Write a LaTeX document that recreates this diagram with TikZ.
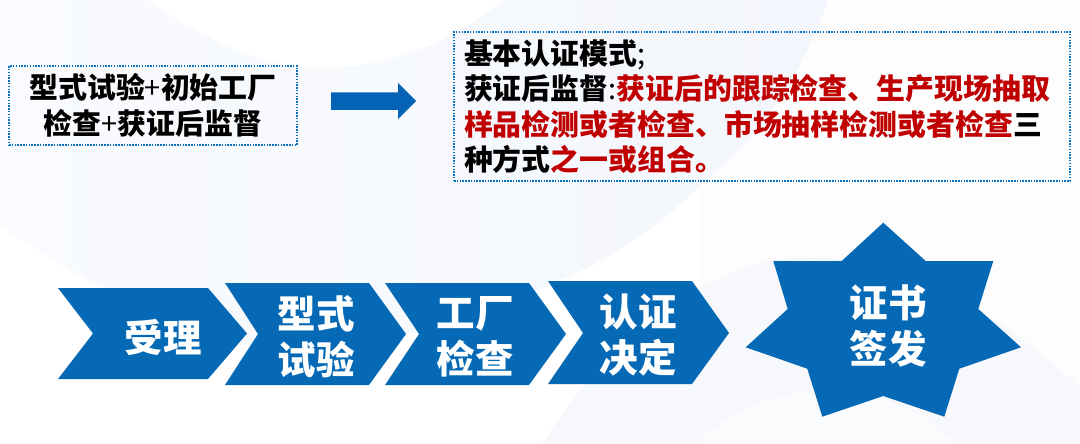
\documentclass[tikz,border=0pt]{standalone}
\usepackage{fontspec}
\setmainfont{Noto Sans CJK SC}[BoldFont={Noto Sans CJK SC Black}]
\definecolor{flowblue}{HTML}{0569B5}
\definecolor{arrowblue}{HTML}{0563B6}
\definecolor{dotblue}{HTML}{0A72C2}
\definecolor{redtxt}{HTML}{C00000}
\definecolor{bgwhite}{HTML}{FDFDFE}
\definecolor{bgleft}{HTML}{F9FBFE}
\definecolor{bgright}{HTML}{F3F6FC}
\definecolor{bglow}{HTML}{F6F8FC}
\definecolor{bgpale}{HTML}{FAFBFD}
\newcommand{\rd}[1]{\textcolor{redtxt}{#1}}
\tikzset{
  x=1pt,y=-1pt,
  shapefill/.style={fill=flowblue,draw=none},
  dotbox/.style={draw=dotblue,line width=1.5pt,dash pattern=on 1.5pt off 1.3pt,inner sep=0pt},
  boxtext/.style={font=\fontsize{28.9}{35.5}\selectfont\bfseries,text=black},
  flowtext/.style={font=\fontsize{38.5}{46}\selectfont\bfseries,text=white,align=center,inner sep=0pt},
}
\begin{document}
\begin{tikzpicture}
\useasboundingbox (0,0) rectangle (1080,444);
% background
\fill[white] (0,0) rectangle (1080,444);
\fill[bgwhite] (700,0) rectangle (1080,444);
\shade[left color=bgleft,right color=bgright]
  (0,0) -- (150,0) .. controls (205,40) and (260,68) .. (320,68)
  .. controls (385,68) and (450,45) .. (504,0) -- (828,0)
  .. controls (800,80) and (760,135) .. (703,183)
  .. controls (660,225) and (610,260) .. (560,280)
  .. controls (450,335) and (340,352) .. (240,345)
  .. controls (160,320) and (70,275) .. (0,225) -- cycle;
\fill[bglow] (543,444) .. controls (565,405) and (630,320) .. (700,287)
  .. controls (725,275) and (750,265) .. (773,260)
  .. controls (860,250) and (950,270) .. (1080,387) -- (1080,444) -- cycle;
\fill[bgpale] (697,444) .. controls (730,410) and (770,392) .. (830,390)
  .. controls (880,390) and (920,410) .. (957,444) -- cycle;
% block arrow
\fill[fill=arrowblue] (331,92.5) -- (398,92.5) -- (398,83) -- (416,101) -- (398,119) -- (398,110) -- (331,110) -- cycle;
% chevrons
\fill[shapefill] (58,288) -- (208,288) -- (247,333.5) -- (208,379) -- (58,379) -- (93,333.5) -- cycle;
\fill[shapefill] (225,283) -- (369,283) -- (406,334) -- (369,385) -- (225,385) -- (258,334) -- cycle;
\fill[shapefill] (385,283) -- (529,283) -- (566,334) -- (529,385) -- (385,385) -- (419,334) -- cycle;
\fill[shapefill] (548,281) -- (692,281) -- (729,333) -- (692,384) -- (548,384) -- (583,333) -- cycle;
% star
\fill[shapefill] (883.3,222.7) -- (925.7,261) -- (993.3,261) -- (978.3,309) -- (1021,347.3) -- (959.3,368.7) -- (944.3,416.7) -- (883.3,396) -- (822.3,416.7) -- (807.3,368.7) -- (745.7,347.3) -- (787.7,309) -- (773.3,261) -- (841.7,261) -- cycle;
% text boxes
\node[dotbox,boxtext,minimum width=288pt,minimum height=79pt,align=center] (certmode) at (153,105.5)
  {型式试验\mdseries+\bfseries 初始工厂\\检查\mdseries+\bfseries 获证后监督};
\node[dotbox,boxtext,minimum width=616pt,minimum height=149pt,text width=596pt,align=left] (detail) at (762,106.5)
  {基本认证模式\mdseries;\bfseries\\
   获证后监督\mdseries:\bfseries\rd{获证后的跟踪检查、生产现场抽取}\\
   \rd{样品检测或者检查、市场抽样检测或者检查}三\\
   种方式\rd{之一或组合。}};
% flow labels
\node[flowtext] (accept) at (163,337) {受理};
\node[flowtext] (typetest) at (316,337) {型式\\试验};
\node[flowtext] (factory) at (475,337) {工厂\\检查};
\node[flowtext] (decide) at (638,335) {认证\\决定};
\node[flowtext] (issue) at (888,326) {证书\\签发};
\end{tikzpicture}
\end{document}
